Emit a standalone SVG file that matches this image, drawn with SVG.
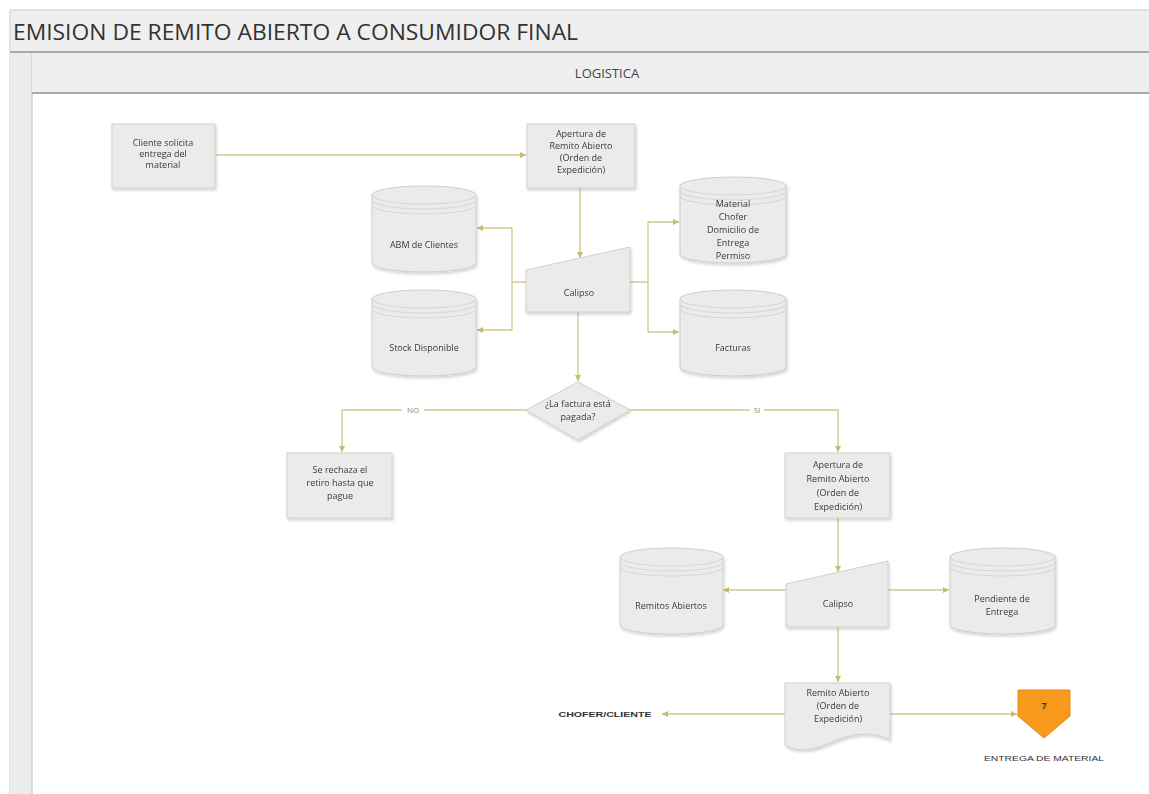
<svg xmlns="http://www.w3.org/2000/svg" xmlns:xlink="http://www.w3.org/1999/xlink" width="1149" height="794" viewBox="0 0 1149 794">
  <style>
    .band { fill: #efefef; }
    .rule { stroke: #a9a9a9; stroke-width: 2; fill: none; }
    .title { font-family: "Open Sans", "Liberation Sans", sans-serif; font-size: 21px; fill: #333333; }
    .lane { font-family: "Open Sans", "Liberation Sans", sans-serif; font-size: 13px; fill: #444444; }
    .box { fill: #ebebeb; stroke: #cfcfcf; stroke-width: 1; }
    .lbl { font-family: "Open Sans", "Liberation Sans", sans-serif; font-size: 9px; fill: #3a3a3a; text-anchor: middle; }
    .cap { font-family: "Liberation Sans", "Open Sans", sans-serif; font-size: 8px; fill: #333333; text-anchor: middle; }
    .conn { stroke: #d2c98c; stroke-width: 1.4; fill: none; }
    .tag { font-family: "Open Sans", "Liberation Sans", sans-serif; font-size: 8px; fill: #8a8a6a; text-anchor: middle; }
    .stripe { stroke: #d6d6d6; stroke-width: 1; fill: none; }
  </style>
  <defs>
    <filter id="shadow" x="-10%" y="-10%" width="130%" height="130%">
      <feDropShadow dx="1" dy="2" stdDeviation="1.5" flood-color="#000000" flood-opacity="0.18"/>
    </filter>
    <marker id="arrow" markerWidth="8" markerHeight="8" refX="6" refY="4" orient="auto" markerUnits="userSpaceOnUse">
      <path d="M0,1 L6,4 L0,7 Z" fill="#c6bb70"/>
    </marker>
    <!-- database cylinder, 104 x 86 -->
    <g id="cyl">
      <path class="box" d="M0,9 A52,9 0 0 1 104,9 V77 A52,9 0 0 1 0,77 Z"/>
      <path class="stripe" d="M0,9 A52,9 0 0 0 104,9"/>
      <path class="stripe" d="M0,14 A52,9 0 0 0 104,14"/>
      <path class="stripe" d="M0,19 A52,9 0 0 0 104,19"/>
    </g>
  </defs>

  <rect width="1149" height="794" fill="#ffffff"/>

  <!-- pool header -->
  <rect class="band" x="10" y="10" width="1139" height="42"/>
  <line x1="10" y1="10" x2="1149" y2="10" stroke="#d8d8d8" stroke-width="1.5"/>
  <line x1="10" y1="10" x2="10" y2="794" stroke="#d8d8d8" stroke-width="1.5"/>
  <text class="title" x="13" y="40" textLength="565" lengthAdjust="spacingAndGlyphs">EMISION DE REMITO ABIERTO A CONSUMIDOR FINAL</text>
  <line class="rule" x1="10" y1="52" x2="1149" y2="52"/>

  <!-- lane -->
  <rect x="10" y="53" width="22" height="741" fill="#ececec"/>
  <line x1="32" y1="53" x2="32" y2="794" stroke="#d2d2d2" stroke-width="1.5"/>
  <rect class="band" x="32" y="53" width="1117" height="39"/>
  <line class="rule" x1="32" y1="93" x2="1149" y2="93"/>
  <text class="lane" x="607" y="78" text-anchor="middle">LOGISTICA</text>

  <!-- connectors -->
  <g id="connectors">
    <path class="conn" d="M215,155 H526" marker-end="url(#arrow)"/>
    <path class="conn" d="M580,188 V258" marker-end="url(#arrow)"/>
    <path class="conn" d="M526,282 H512 V228 H477" marker-end="url(#arrow)"/>
    <path class="conn" d="M512,282 V330 H477" marker-end="url(#arrow)"/>
    <path class="conn" d="M630,282 H648 V222 H679" marker-end="url(#arrow)"/>
    <path class="conn" d="M648,282 V332 H679" marker-end="url(#arrow)"/>
    <path class="conn" d="M578,312 V381" marker-end="url(#arrow)"/>
    <path class="conn" d="M526,410 H342 V452" marker-end="url(#arrow)"/>
    <path class="conn" d="M630,410 H838 V452" marker-end="url(#arrow)"/>
    <path class="conn" d="M838,518 V572" marker-end="url(#arrow)"/>
    <path class="conn" d="M786,590 H723" marker-end="url(#arrow)"/>
    <path class="conn" d="M888,590 H949" marker-end="url(#arrow)"/>
    <path class="conn" d="M838,627 V682" marker-end="url(#arrow)"/>
    <path class="conn" d="M785,714 H662" marker-end="url(#arrow)"/>
    <path class="conn" d="M890,714 H1017" marker-end="url(#arrow)"/>
    <rect x="402" y="405" width="22" height="10" fill="#ffffff"/>
    <text class="tag" x="413" y="413">NO</text>
    <rect x="750" y="405" width="14" height="10" fill="#ffffff"/>
    <text class="tag" x="757" y="413">SI</text>
  </g>

  <!-- nodes -->
  <g id="n-cliente" filter="url(#shadow)">
    <rect class="box" x="112" y="124" width="103" height="64"/>
    <text class="lbl" x="163" y="146">Cliente solicita</text>
    <text class="lbl" x="163" y="157">entrega del</text>
    <text class="lbl" x="163" y="168">material</text>
  </g>

  <g id="n-apertura1" filter="url(#shadow)">
    <rect class="box" x="527" y="124" width="108" height="64"/>
    <text class="lbl" x="581" y="137">Apertura de</text>
    <text class="lbl" x="581" y="149">Remito Abierto</text>
    <text class="lbl" x="581" y="161">(Orden de</text>
    <text class="lbl" x="581" y="173">Expedición)</text>
  </g>

  <g id="n-abm" filter="url(#shadow)">
    <use xlink:href="#cyl" x="372" y="186"/>
    <text class="lbl" x="424" y="248">ABM de Clientes</text>
  </g>

  <g id="n-stock" filter="url(#shadow)">
    <use xlink:href="#cyl" x="372" y="290"/>
    <text class="lbl" x="424" y="351">Stock Disponible</text>
  </g>

  <g id="n-calipso1" filter="url(#shadow)">
    <polygon class="box" points="526,270 630,247 630,312 526,312"/>
    <text class="lbl" x="579" y="296">Calipso</text>
  </g>

  <g id="n-material" filter="url(#shadow)">
    <use xlink:href="#cyl" transform="translate(680,177) scale(1.02,1)"/>
    <text class="lbl" x="733" y="207">Material</text>
    <text class="lbl" x="733" y="220">Chofer</text>
    <text class="lbl" x="733" y="233">Domicilio de</text>
    <text class="lbl" x="733" y="246">Entrega</text>
    <text class="lbl" x="733" y="259">Permiso</text>
  </g>

  <g id="n-facturas" filter="url(#shadow)">
    <use xlink:href="#cyl" transform="translate(680,290) scale(1.02,1)"/>
    <text class="lbl" x="733" y="351">Facturas</text>
  </g>

  <g id="n-pagada" filter="url(#shadow)">
    <polygon class="box" points="578,382 630,410 578,440 526,410"/>
    <text class="lbl" x="578" y="407">¿La factura está</text>
    <text class="lbl" x="578" y="420">pagada?</text>
  </g>

  <g id="n-rechaza" filter="url(#shadow)">
    <rect class="box" x="287" y="453" width="105" height="65"/>
    <text class="lbl" x="340" y="473">Se rechaza el</text>
    <text class="lbl" x="340" y="486">retiro hasta que</text>
    <text class="lbl" x="340" y="499">pague</text>
  </g>

  <g id="n-apertura2" filter="url(#shadow)">
    <rect class="box" x="785" y="453" width="105" height="65"/>
    <text class="lbl" x="838" y="468">Apertura de</text>
    <text class="lbl" x="838" y="482">Remito Abierto</text>
    <text class="lbl" x="838" y="496">(Orden de</text>
    <text class="lbl" x="838" y="510">Expedición)</text>
  </g>

  <g id="n-calipso2" filter="url(#shadow)">
    <polygon class="box" points="786,584 888,561 888,627 786,627"/>
    <text class="lbl" x="838" y="607">Calipso</text>
  </g>

  <g id="n-remitos" filter="url(#shadow)">
    <use xlink:href="#cyl" transform="translate(620,548) scale(0.99,1)"/>
    <text class="lbl" x="671" y="609">Remitos Abiertos</text>
  </g>

  <g id="n-pendiente" filter="url(#shadow)">
    <use xlink:href="#cyl" transform="translate(950,548) scale(1.01,1)"/>
    <text class="lbl" x="1002" y="602">Pendiente de</text>
    <text class="lbl" x="1002" y="615">Entrega</text>
  </g>

  <g id="n-documento" filter="url(#shadow)">
    <path class="box" d="M785,683 H890 V740 C866,728 846,736 822,746 C806,752 794,750 785,745 Z" fill="#f3f1ea"/>
    <text class="lbl" x="838" y="696">Remito Abierto</text>
    <text class="lbl" x="838" y="709">(Orden de</text>
    <text class="lbl" x="838" y="722">Expedición)</text>
  </g>

  <g id="n-chofer">
    <text class="cap" x="605" y="717" font-weight="bold" textLength="93" lengthAdjust="spacingAndGlyphs">CHOFER/CLIENTE</text>
  </g>

  <g id="n-entrega">
    <polygon points="1018,690 1070,690 1070,716 1044,738 1018,716" fill="#f7991c" stroke="#e8891a" stroke-width="1"/>
    <text class="lbl" x="1044" y="709" font-weight="bold" fill="#5a3a10">7</text>
    <text class="cap" x="1044" y="761" textLength="120" lengthAdjust="spacingAndGlyphs">ENTREGA DE MATERIAL</text>
  </g>
</svg>
